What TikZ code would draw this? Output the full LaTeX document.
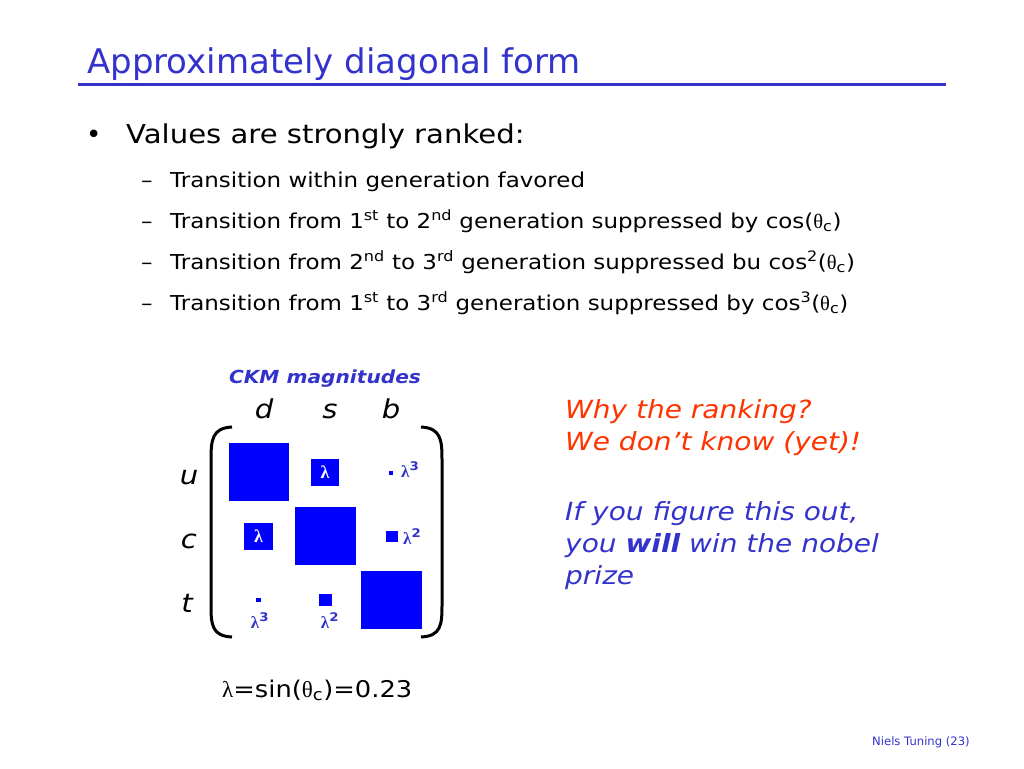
\documentclass[tikz,border=0pt]{standalone}
\usepackage{fontspec}
\setmainfont{DejaVu Sans}[FakeStretch=1.12]
\newfontfamily\plainfont{DejaVu Sans}
\newfontfamily\grk{Liberation Serif}
\definecolor{ttl}{HTML}{3333CC}
\definecolor{sq}{HTML}{0000FF}
\definecolor{rd}{HTML}{FF3300}
\newcommand{\lam}{{\grk λ}}
\newcommand{\tht}{{\grk θ}}
\tikzset{
  txt/.style={inner sep=0pt, anchor=base west},
  box/.style={fill=sq, draw=none},
  inlab/.style={text=white, font=\fontsize{18}{20}\selectfont\bfseries, inner sep=0pt},
  outlab/.style={text=ttl, font=\fontsize{17}{20}\selectfont\bfseries, inner sep=0pt},
  qk/.style={inner sep=0pt, anchor=base, font=\fontsize{26}{30}\selectfont\itshape},
  brk/.style={line width=3pt, black},
  sub/.style={txt, font=\fontsize{20.5}{24}\selectfont},
  rtxt/.style={txt, font=\fontsize{25}{30}\selectfont\itshape},
}
\begin{document}
\begin{tikzpicture}[x=1pt,y=-1pt]
\useasboundingbox (0,0) rectangle (1024,768);
% title
\node[txt, text=ttl, font=\plainfont\fontsize{34}{38}\selectfont] (title) at (87,74) {Approximately diagonal form};
\coordinate (ul) at (78,84); \coordinate (ur) at (946,84);
\draw[ttl, line width=3pt] (ul) -- (ur);
% bullets
\node[txt, font=\plainfont\fontsize{26}{30}\selectfont] (bul) at (86,143) {•};
\node[txt, font=\fontsize{26}{30}\selectfont] (b1) at (126,143) {Values are strongly ranked:};
\foreach \y/\t [count=\i] in {
  187/{Transition within generation favored},
  228/{Transition from 1\textsuperscript{st} to 2\textsuperscript{nd} generation suppressed by cos(\tht\textsubscript{c})},
  269/{Transition from 2\textsuperscript{nd} to 3\textsuperscript{rd} generation suppressed bu cos\textsuperscript{2}(\tht\textsubscript{c})},
  310/{Transition from 1\textsuperscript{st} to 3\textsuperscript{rd} generation suppressed by cos\textsuperscript{3}(\tht\textsubscript{c})}}{
  \node[sub] (d\i) at (141,\y) {–};
  \node[sub] (s\i) at (170,\y) {\t};
}
% CKM
\node[inner sep=0pt, anchor=base, text=ttl, font=\fontsize{18}{20}\selectfont\bfseries\itshape] (ckm) at (325,383) {CKM magnitudes};
\node[qk] (qd) at (264,418) {d};
\node[qk] (qs) at (330,418) {s};
\node[qk] (qb) at (391,418) {b};
\node[qk] (qu) at (189,484) {u};
\node[qk] (qc) at (189,548) {c};
\node[qk] (qt) at (187,612) {t};
% brackets
\draw[brk] (232,427) .. controls (212,428) and (211,440) .. (211,460) -- (211,605) .. controls (211,625) and (212,636) .. (232,637);
\draw[brk] (421,427) .. controls (441,428) and (442,440) .. (442,460) -- (442,605) .. controls (442,625) and (441,636) .. (421,637);
% squares
\fill[box] (229,443) rectangle (289,501);
\node[box, minimum width=28pt, minimum height=27pt, inlab] (us) at (325,472.5) {\lam};
\fill[box] (389,471) rectangle (393,475);
\node[outlab, anchor=base west] (ubl) at (401,477) {\lam\textsuperscript{3}};
\node[box, minimum width=29pt, minimum height=27pt, inlab] (cd) at (258.5,536.5) {\lam};
\fill[box] (295,507) rectangle (356,565);
\fill[box] (386,531) rectangle (398,542);
\node[outlab, anchor=base west] (cbl) at (403,544) {\lam\textsuperscript{2}};
\fill[box] (256,598) rectangle (261,602);
\node[outlab, anchor=base] (tdl) at (260,628) {\lam\textsuperscript{3}};
\fill[box] (319,594) rectangle (332,606);
\node[outlab, anchor=base] (tsl) at (330,628) {\lam\textsuperscript{2}};
\fill[box] (361,571) rectangle (422,629);
% formula
\node[txt, font=\fontsize{23}{26}\selectfont] (lam) at (222,697) {\lam=sin(\tht\textsubscript{c})=0.23};
% right text
\node[rtxt, text=rd] (r1) at (565,418) {Why the ranking?};
\node[rtxt, text=rd] (r2) at (565,450) {We don’t know (yet)!};
\node[rtxt, text=ttl] (r3) at (565,520) {If you figure this out,};
\node[rtxt, text=ttl] (r4) at (565,552) {you \textbf{will} win the nobel};
\node[rtxt, text=ttl] (r5) at (565,584) {prize};
% footer
\node[txt, text=ttl, font=\plainfont\fontsize{11.6}{14}\selectfont] (ft) at (872,745) {Niels Tuning (23)};
\end{tikzpicture}
\end{document}
